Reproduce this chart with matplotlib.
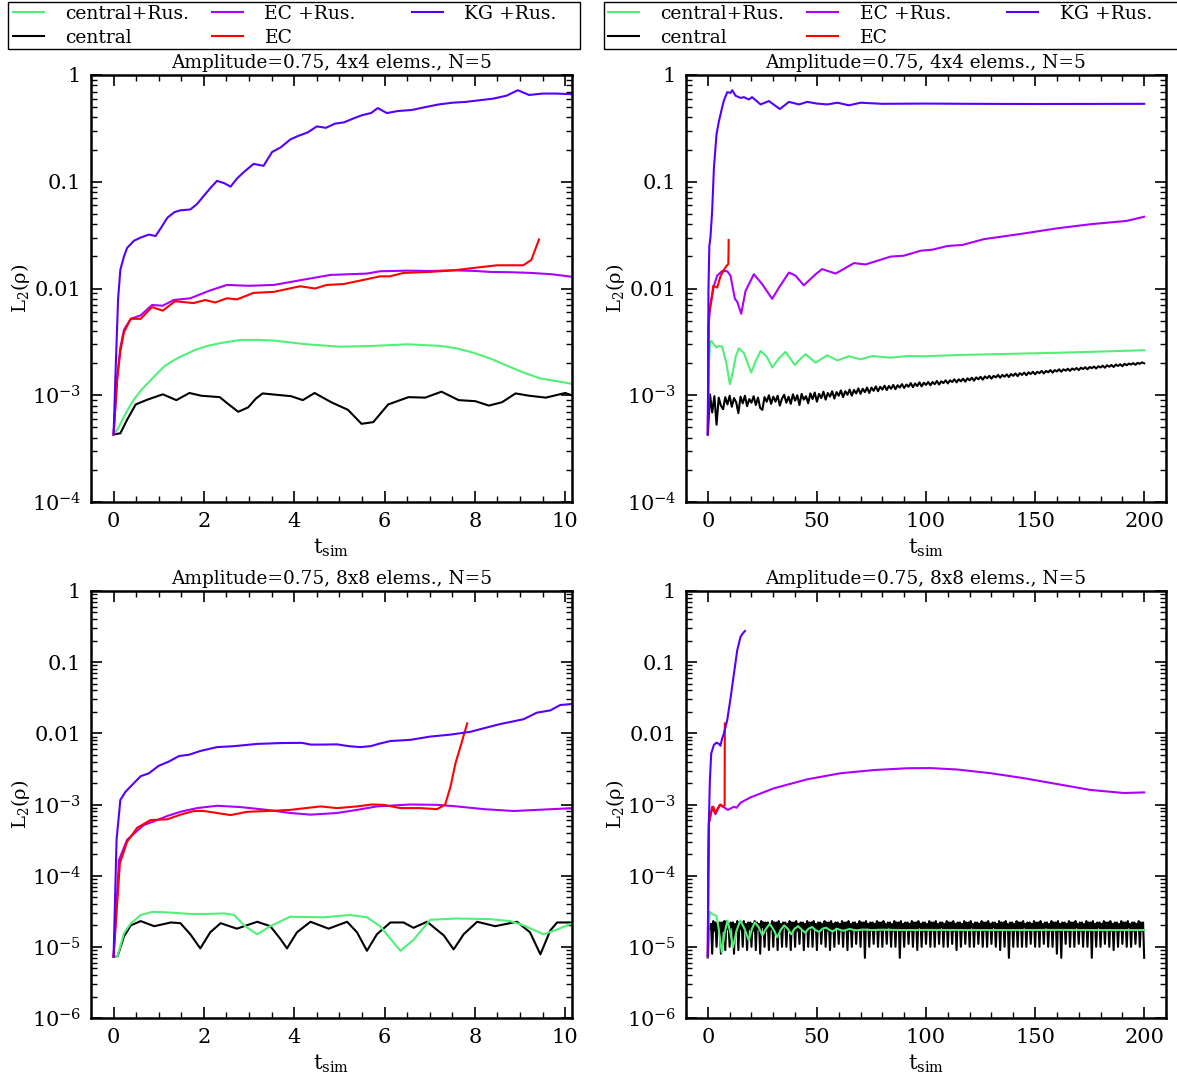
import numpy as np
import matplotlib
matplotlib.use('Agg')
import matplotlib.pyplot as plt
from matplotlib.patches import Rectangle
from matplotlib.ticker import FixedLocator, FixedFormatter, MultipleLocator, LogLocator, NullFormatter

plt.rcParams['font.family'] = ['DejaVu Serif']
plt.rcParams['mathtext.fontset'] = 'dejavuserif'

# ---------------- labels ----------------
series_labels = ['central+Rus.', 'central', 'EC +Rus.', 'EC', 'KG +Rus.']
titles = ['Amplitude=0.75, 4x4 elems., N=5', 'Amplitude=0.75, 4x4 elems., N=5',
          'Amplitude=0.75, 8x8 elems., N=5', 'Amplitude=0.75, 8x8 elems., N=5']
xticks_short = [0, 2, 4, 6, 8, 10]
xticks_long = [0, 50, 100, 150, 200]

# ---------------- top-left (4x4, t<=10) ----------------
tl_kg_t = [0, 0.05, 0.1, 0.15, 0.23, 0.3, 0.45, 0.6, 0.78, 0.93, 1.05, 1.19, 1.35, 1.48, 1.7, 1.85, 2.0, 2.15,
           2.29, 2.45, 2.59, 2.74, 2.9, 3.1, 3.32, 3.51, 3.7, 3.92, 4.1, 4.3, 4.5, 4.7, 4.9, 5.1, 5.3, 5.5, 5.7,
           5.85, 6.05, 6.3, 6.6, 6.9, 7.2, 7.5, 7.8, 8.1, 8.4, 8.7, 8.95, 9.2, 9.5, 9.8, 10.2]
tl_kg = [4.3e-4, 2e-3, 8e-3, 0.015, 0.020, 0.024, 0.028, 0.030, 0.032, 0.031, 0.037, 0.046, 0.052, 0.054, 0.055,
         0.062, 0.074, 0.088, 0.102, 0.097, 0.090, 0.108, 0.125, 0.147, 0.141, 0.190, 0.21, 0.25, 0.27, 0.29,
         0.33, 0.32, 0.35, 0.36, 0.39, 0.42, 0.44, 0.49, 0.44, 0.46, 0.47, 0.50, 0.53, 0.55, 0.56, 0.58, 0.60,
         0.64, 0.72, 0.65, 0.67, 0.67, 0.66]
tl_ecr_t = [0, 0.08, 0.15, 0.23, 0.38, 0.6, 0.85, 1.09, 1.33, 1.7, 2.11, 2.51, 3.0, 3.55, 4.06, 4.8, 5.2, 5.61,
            5.9, 6.5, 7.0, 7.53, 8.0, 8.34, 8.8, 9.23, 9.7, 10.2]
tl_ecr = [4.3e-4, 1.5e-3, 2.8e-3, 4.1e-3, 5.2e-3, 5.6e-3, 7.0e-3, 6.9e-3, 7.8e-3, 8.1e-3, 9.5e-3, 0.0108, 0.0106,
          0.0108, 0.0118, 0.0134, 0.0136, 0.0138, 0.0145, 0.0147, 0.0146, 0.0148, 0.0146, 0.0143, 0.0142, 0.014,
          0.0136, 0.0128]
tl_ec_t = [0, 0.08, 0.15, 0.23, 0.38, 0.6, 0.85, 1.09, 1.36, 1.77, 2.03, 2.25, 2.51, 2.73, 3.1, 3.55, 4.13, 4.46,
           4.72, 5.09, 5.6, 5.9, 6.12, 6.42, 7.0, 7.53, 8.04, 8.49, 9.07, 9.25, 9.36, 9.42]
tl_ec = [4.3e-4, 1.4e-3, 2.6e-3, 3.9e-3, 5.2e-3, 5.2e-3, 6.7e-3, 6.2e-3, 7.6e-3, 7.3e-3, 7.8e-3, 7.4e-3, 8.1e-3,
         7.9e-3, 9.1e-3, 9.3e-3, 0.0105, 0.0100, 0.0108, 0.011, 0.0122, 0.013, 0.013, 0.014, 0.0143, 0.0148,
         0.0157, 0.0165, 0.0165, 0.0185, 0.0247, 0.0288]
tl_cr_t = [0, 0.1, 0.23, 0.35, 0.45, 0.6, 0.75, 0.9, 1.12, 1.35, 1.57, 1.8, 2.08, 2.4, 2.82, 3.2, 3.55, 4.28,
           5.02, 5.76, 6.5, 7.23, 7.6, 7.97, 8.35, 8.7, 9.05, 9.44, 10.2]
tl_cr = [4.3e-4, 4.9e-4, 6.3e-4, 7.8e-4, 9.1e-4, 1.1e-3, 1.29e-3, 1.5e-3, 1.86e-3, 2.15e-3, 2.39e-3, 2.65e-3,
         2.9e-3, 3.1e-3, 3.3e-3, 3.3e-3, 3.25e-3, 3.0e-3, 2.85e-3, 2.9e-3, 3.0e-3, 2.9e-3, 2.75e-3, 2.5e-3,
         2.2e-3, 1.9e-3, 1.65e-3, 1.44e-3, 1.27e-3]
tl_c_t = [0, 0.15, 0.3, 0.49, 0.75, 1.09, 1.39, 1.68, 1.94, 2.35, 2.55, 2.76, 2.98, 3.15, 3.3, 3.93, 4.19, 4.45,
          4.82, 5.19, 5.49, 5.75, 6.08, 6.53, 6.9, 7.26, 7.64, 8.01, 8.31, 8.6, 8.9, 9.2, 9.57, 10.0, 10.2]
tl_c = [4.3e-4, 4.4e-4, 5.9e-4, 8.2e-4, 9.1e-4, 1.02e-3, 9.0e-4, 1.05e-3, 9.9e-4, 9.6e-4, 8.2e-4, 7.0e-4, 7.7e-4,
        9.3e-4, 1.04e-3, 9.8e-4, 9.0e-4, 1.05e-3, 8.6e-4, 7.3e-4, 5.4e-4, 5.6e-4, 8.2e-4, 9.6e-4, 9.5e-4, 1.08e-3,
        9.0e-4, 8.8e-4, 8.0e-4, 8.6e-4, 1.04e-3, 9.9e-4, 9.5e-4, 1.05e-3, 9.8e-4]

# ---------------- top-right (4x4, t<=200) ----------------
tr_kg_t = [0, 0.3, 0.7, 1.2, 2.0, 2.8, 4.0, 5.1, 6.6, 7.4, 8.9, 10.4, 11.2, 12.7, 15.0, 16.5, 18.8, 20.3, 24.2,
           28.0, 33.0, 37.2, 41.8, 45.6, 50.0, 54.8, 59.4, 64.7, 70.0, 80, 100, 120, 150, 200]
tr_kg = [4.3e-4, 0.01, 0.025, 0.03, 0.054, 0.136, 0.28, 0.37, 0.50, 0.58, 0.69, 0.68, 0.72, 0.64, 0.61, 0.62, 0.59,
         0.62, 0.53, 0.57, 0.48, 0.56, 0.53, 0.56, 0.54, 0.53, 0.55, 0.52, 0.55, 0.537, 0.54, 0.537, 0.535, 0.537]
tr_ecr_t = [0, 0.3, 1.2, 2.8, 4.3, 6.6, 8.9, 10.4, 12.4, 13.5, 15.3, 17.3, 21.1, 24.9, 29.5, 32.6, 37.2, 40.2,
            44.0, 49.4, 52.4, 58.6, 67, 72.3, 83.8, 89.9, 97.6, 102.9, 109.8, 116.7, 126.6, 145, 160, 175.4, 192, 200]
tr_ecr = [4.3e-4, 4.5e-3, 7.1e-3, 0.0106, 0.0132, 0.0146, 0.0145, 0.0132, 0.0080, 0.0075, 0.0058, 0.0095, 0.0136,
          0.011, 0.0080, 0.0102, 0.0141, 0.0132, 0.0107, 0.0136, 0.0152, 0.0138, 0.0173, 0.0168, 0.0199, 0.0203,
          0.0226, 0.0231, 0.025, 0.0256, 0.029, 0.0328, 0.0366, 0.040, 0.043, 0.047]
tr_ec_t = [0, 0.5, 1.6, 2.5, 4.3, 5.8, 7.4, 8.6, 9.4, 9.5, 9.55]
tr_ec = [4.3e-4, 5.6e-3, 7.7e-3, 0.0106, 0.0102, 0.013, 0.015, 0.0163, 0.017, 0.0226, 0.0285]
tr_cr_t = [0, 0.5, 1.0, 1.6, 2.8, 4.0, 5.1, 6.6, 8.5, 10.1, 11.2, 12.8, 14.2, 16.5, 19.9, 22.0, 24.2, 27.0, 29.5,
           32.5, 35.6, 39.9, 42.5, 44.8, 49.4, 54.7, 59.4, 64.7, 70, 75.4, 83.8, 91.4, 99, 114.4, 129.7, 145, 160,
           175, 200]
tr_cr = [4.3e-4, 2.0e-3, 3.1e-3, 3.23e-3, 3.0e-3, 2.8e-3, 2.9e-3, 2.85e-3, 2.0e-3, 1.27e-3, 1.57e-3, 2.3e-3,
         2.75e-3, 2.5e-3, 1.63e-3, 2.1e-3, 2.6e-3, 2.3e-3, 1.82e-3, 2.2e-3, 2.55e-3, 1.92e-3, 2.2e-3, 2.42e-3,
         2.02e-3, 2.37e-3, 2.12e-3, 2.32e-3, 2.17e-3, 2.33e-3, 2.25e-3, 2.33e-3, 2.32e-3, 2.38e-3, 2.42e-3,
         2.46e-3, 2.5e-3, 2.55e-3, 2.64e-3]
# central, sampled every 1 time unit, values in units of 1e-4
tr_c_e4 = [4.3,
           10.2, 6.9, 9.8, 5.3, 9.5, 8.0, 7.4, 9.6, 8.2, 9.9,
           7.8, 9.4, 8.6, 6.8, 9.7, 8.4, 9.9, 7.9, 9.2, 8.5,
           9.8, 8.1, 9.5, 7.6, 7.3, 9.6, 8.7, 10.0, 8.3, 9.7,
           8.7, 9.9, 8.0, 9.3, 10.1, 8.5, 9.7, 8.3, 10.2, 8.9,
           10.0, 8.1, 10.3, 9.1, 9.8, 8.4, 10.4, 9.2, 10.6, 8.7,
           10.3, 9.4, 10.8, 9.1, 10.5, 9.7, 10.9, 9.3, 10.7, 9.9,
           11.1, 9.6, 10.9, 10.1, 11.3, 9.9, 11.2, 10.4, 11.6, 10.3,
           11.5, 10.7, 11.8, 10.5, 11.8, 11.0, 12.1, 10.9, 12.0, 11.3,
           12.3, 11.2, 12.2, 11.5, 12.5, 11.4, 12.4, 11.8, 12.7, 11.7,
           12.6, 12.0, 13.0, 11.9, 12.9, 12.2, 13.2, 12.1, 13.1, 12.5,
           13.3, 12.4, 13.3, 12.7, 13.6, 12.6, 13.5, 13.0, 13.8, 12.9,
           13.8, 13.3, 14.1, 13.2, 14.1, 13.5, 14.3, 13.4, 14.4, 13.8,
           14.6, 13.7, 14.7, 14.1, 14.9, 14.0, 15.0, 14.4, 15.2, 14.3,
           15.2, 14.7, 15.5, 14.6, 15.5, 14.9, 15.7, 14.8, 15.8, 15.2,
           16.0, 15.1, 16.1, 15.5, 16.3, 15.4, 16.4, 15.8, 16.6, 15.7,
           16.6, 16.1, 16.9, 16.0, 16.9, 16.4, 17.2, 16.3, 17.2, 16.7,
           17.5, 16.6, 17.5, 17.0, 17.7, 16.9, 17.8, 17.3, 18.0, 17.2,
           18.1, 17.6, 18.3, 17.5, 18.4, 17.9, 18.6, 17.8, 18.7, 18.2,
           18.9, 18.1, 19.1, 18.5, 19.2, 18.4, 19.4, 18.8, 19.5, 18.7,
           19.7, 19.1, 19.8, 19.4, 20.0, 19.3, 20.1, 19.7, 20.3, 19.9]

# ---------------- bottom-left (8x8, t<=10) ----------------
bl_kg_t = [0, 0.066, 0.15, 0.26, 0.45, 0.6, 0.78, 1.0, 1.22, 1.45, 1.67, 1.92, 2.29, 2.66, 3.18, 3.69, 4.17, 4.36,
           4.65, 4.95, 5.21, 5.46, 5.69, 5.9, 6.13, 6.57, 7.01, 7.46, 7.9, 8.2, 8.56, 9.08, 9.37, 9.67, 9.89, 10.2]
bl_kg = [7.3e-6, 3.2e-4, 1.16e-3, 1.5e-3, 2.0e-3, 2.5e-3, 2.74e-3, 3.5e-3, 4.0e-3, 4.8e-3, 5.0e-3, 5.65e-3, 6.4e-3,
         6.6e-3, 7.1e-3, 7.3e-3, 7.35e-3, 6.95e-3, 6.95e-3, 7.0e-3, 6.6e-3, 6.4e-3, 6.6e-3, 7.2e-3, 7.8e-3, 8.1e-3,
         9.0e-3, 9.6e-3, 0.0105, 0.0118, 0.0135, 0.0158, 0.0195, 0.021, 0.025, 0.026]
bl_ecr_t = [0, 0.12, 0.3, 0.67, 0.97, 1.19, 1.48, 1.85, 2.29, 2.81, 3.4, 3.91, 4.36, 4.95, 5.39, 5.83, 6.57, 7.16,
            7.6, 8.2, 8.86, 9.37, 10.2]
bl_ecr = [7.3e-6, 1.66e-4, 3.2e-4, 5.15e-4, 6.05e-4, 6.9e-4, 7.9e-4, 8.9e-4, 9.6e-4, 9.2e-4, 8.4e-4, 7.6e-4,
          7.2e-4, 7.6e-4, 8.4e-4, 9.4e-4, 1.0e-3, 9.9e-4, 9.4e-4, 8.6e-4, 8.1e-4, 8.4e-4, 8.9e-4]
bl_ec_t = [0, 0.14, 0.3, 0.52, 0.82, 1.19, 1.48, 1.78, 2.0, 2.29, 2.59, 2.96, 3.4, 3.91, 4.58, 4.95, 5.39, 5.72,
           5.97, 6.35, 6.79, 7.16, 7.34, 7.46, 7.57, 7.68, 7.83]
bl_ec = [7.3e-6, 1.5e-4, 3.0e-4, 4.7e-4, 6.05e-4, 6.2e-4, 7.2e-4, 8.1e-4, 8.1e-4, 7.6e-4, 7.1e-4, 7.9e-4, 8.1e-4,
         8.4e-4, 9.4e-4, 8.9e-4, 9.4e-4, 1.0e-3, 9.9e-4, 8.9e-4, 8.9e-4, 8.6e-4, 9.9e-4, 1.78e-3, 3.8e-3, 6.5e-3,
         0.0138]
bl_cr_t = [0, 0.09, 0.23, 0.38, 0.6, 0.86, 1.19, 1.7, 2.07, 2.45, 2.67, 2.89, 3.18, 3.47, 3.91, 4.65, 5.24, 5.61,
           5.9, 6.35, 6.64, 7.01, 7.6, 8.34, 8.78, 9.08, 9.52, 9.82, 10.2]
bl_cr = [7.3e-6, 7.5e-6, 1.55e-5, 2.13e-5, 2.8e-5, 3.1e-5, 3.05e-5, 2.9e-5, 2.9e-5, 2.95e-5, 2.8e-5, 2.0e-5, 1.5e-5,
         1.95e-5, 2.65e-5, 2.6e-5, 2.8e-5, 2.6e-5, 1.95e-5, 8.8e-6, 1.25e-5, 2.4e-5, 2.5e-5, 2.45e-5, 2.3e-5,
         2.0e-5, 1.5e-5, 1.75e-5, 2.2e-5]
bl_c_t = [0, 0.09, 0.23, 0.38, 0.6, 0.9, 1.27, 1.48, 1.7, 1.92, 2.14, 2.37, 2.73, 3.18, 3.47, 3.69, 3.84, 4.06,
          4.36, 4.76, 5.17, 5.39, 5.61, 5.83, 6.13, 6.42, 6.64, 6.94, 7.31, 7.53, 7.75, 8.05, 8.45, 8.93, 9.22,
          9.45, 9.67, 9.82, 10.2]
bl_c = [7.3e-6, 7.4e-6, 1.4e-5, 2.0e-5, 2.3e-5, 1.95e-5, 2.2e-5, 2.15e-5, 1.5e-5, 9.5e-6, 1.6e-5, 2.15e-5, 1.8e-5,
        2.25e-5, 1.95e-5, 1.3e-5, 9.5e-6, 1.6e-5, 2.25e-5, 1.8e-5, 2.25e-5, 1.6e-5, 8.8e-6, 1.5e-5, 2.2e-5, 2.2e-5,
        1.85e-5, 2.25e-5, 1.45e-5, 9.2e-6, 1.5e-5, 2.25e-5, 1.95e-5, 2.25e-5, 1.6e-5, 7.85e-6, 1.7e-5, 2.2e-5,
        2.2e-5]

# ---------------- bottom-right (8x8, t<=200) ----------------
br_kg_t = [0, 0.2, 0.5, 0.95, 1.55, 2.8, 4.0, 5.1, 5.8, 6.6, 7.4, 8.9, 10.4, 12.0, 13.5, 15.0, 16.1, 17.0]
br_kg = [7.3e-6, 1e-4, 6.0e-4, 2.2e-3, 5.2e-3, 6.9e-3, 7.4e-3, 7.1e-3, 6.7e-3, 8.5e-3, 0.010, 0.0154, 0.031, 0.07,
         0.148, 0.228, 0.255, 0.274]
br_ec_t = [0, 0.2, 0.5, 1.6, 2.5, 3.5, 4.6, 5.8, 7.0, 7.7, 7.8]
br_ec = [7.3e-6, 1e-4, 5.5e-4, 7.9e-4, 9.3e-4, 7.6e-4, 8.9e-4, 1.0e-3, 9.3e-4, 9.7e-4, 0.0138]
br_ecr_t = [0, 0.2, 0.5, 2.0, 3.5, 5.5, 7.0, 9.2, 12.0, 13.2, 15.0, 19.6, 30.3, 45.6, 60.9, 76.2, 91.4, 102, 114.4,
            129.7, 145, 160, 175.5, 190.8, 200]
br_ecr = [7.3e-6, 1e-4, 5.5e-4, 9.3e-4, 7.3e-4, 9.9e-4, 9.3e-4, 8.4e-4, 9.3e-4, 9.0e-4, 1.06e-3, 1.26e-3, 1.69e-3,
          2.26e-3, 2.75e-3, 3.05e-3, 3.23e-3, 3.25e-3, 3.1e-3, 2.75e-3, 2.34e-3, 1.94e-3, 1.6e-3, 1.45e-3, 1.48e-3]
br_cr_t = [0, 0.4, 1.0, 2.0, 3.0, 4.0, 5.0, 6.4, 7.8, 9.0, 10.3, 11.5, 13.2, 14.9, 16.8, 18.8, 20.2, 21.6, 23.3,
           25.0, 26.7, 28.4, 30.1, 31.8, 33.5, 35.0, 36.6, 38.2, 39.8, 41.4, 43.0, 44.6, 46.2, 47.8, 49.4, 51.0,
           52.6, 54.2, 55.8, 57.4, 59, 62, 65, 68, 71, 75, 80, 90, 100, 120, 140, 160, 180, 200]
# values in units of 1e-5
br_cr_e5 = [0.7, 2.0, 3.1, 2.9, 2.8, 2.7, 1.8, 0.84, 1.6, 2.35, 1.6, 0.98, 1.7, 2.35, 1.8, 1.23, 1.8, 2.2, 1.9,
            1.45, 1.8, 2.1, 1.75, 1.36, 1.75, 2.0, 1.8, 1.5, 1.8, 1.95, 1.75, 1.58, 1.8, 1.9, 1.72, 1.62, 1.8,
            1.86, 1.72, 1.65, 1.8, 1.68, 1.78, 1.7, 1.75, 1.72, 1.74, 1.72, 1.73, 1.72, 1.72, 1.73, 1.72, 1.72]
# central, sampled every 0.5 time units, values in units of 1e-6
br_c_e6 = [7,
           22, 18, 21, 8, 23, 17, 22, 10, 21, 18, 22, 8, 22, 17, 23, 9, 23, 18, 21, 10,
           22, 19, 22, 8, 21, 17, 23, 9, 22, 18, 22, 10, 23, 17, 21, 9, 22, 18, 22, 10,
           21, 17, 23, 9, 22, 18, 21, 8, 23, 19, 22, 10, 22, 17, 22, 9, 21, 18, 23, 10,
           22, 17, 22, 9, 23, 18, 21, 10, 22, 19, 22, 10, 21, 17, 23, 9, 22, 18, 22, 10,
           23, 17, 21, 11, 22, 18, 22, 9, 21, 17, 23, 10, 22, 18, 22, 10, 23, 19, 21, 9,
           22, 17, 22, 11, 21, 18, 23, 10, 22, 17, 22, 9, 23, 18, 21, 10, 22, 19, 22, 11,
           21, 17, 23, 10, 22, 18, 22, 9, 23, 17, 21, 10, 22, 18, 22, 11, 21, 17, 23, 10,
           22, 18, 22, 7, 23, 19, 21, 10, 22, 17, 22, 11, 21, 18, 23, 10, 22, 17, 22, 10,
           23, 18, 21, 11, 22, 19, 22, 10, 21, 17, 23, 10, 22, 18, 22, 7, 23, 17, 21, 10,
           22, 18, 22, 11, 21, 17, 23, 10, 22, 18, 22, 9, 23, 19, 21, 10, 22, 17, 22, 11,
           21, 18, 23, 10, 22, 17, 22, 10, 23, 18, 21, 11, 22, 19, 22, 10, 21, 17, 23, 10,
           22, 18, 22, 11, 23, 17, 21, 9, 22, 18, 22, 10, 21, 17, 23, 11, 22, 18, 22, 10,
           23, 19, 21, 10, 22, 17, 22, 11, 21, 18, 23, 10, 22, 17, 22, 10, 23, 18, 21, 11,
           22, 19, 22, 10, 21, 17, 23, 9, 22, 18, 22, 10, 23, 17, 21, 7, 22, 18, 22, 10,
           21, 17, 23, 10, 22, 18, 22, 10, 23, 19, 21, 10, 22, 17, 22, 11, 21, 18, 23, 10,
           22, 17, 22, 10, 23, 18, 21, 11, 22, 19, 22, 10, 21, 17, 23, 10, 22, 18, 22, 8,
           23, 17, 21, 7, 22, 18, 22, 11, 21, 17, 23, 10, 22, 18, 22, 10, 23, 19, 21, 11,
           22, 17, 22, 10, 21, 18, 23, 10, 22, 17, 22, 7, 23, 18, 21, 10, 22, 19, 22, 10,
           21, 17, 23, 11, 22, 18, 22, 10, 23, 17, 21, 9, 22, 18, 22, 10, 21, 17, 23, 11,
           22, 18, 22, 10, 23, 19, 21, 10, 22, 17, 22, 11, 21, 18, 23, 10, 22, 17, 22, 7]

# ---------------- colours ----------------
c_cr, c_c, c_ecr, c_ec, c_kg = '#50f078', 'black', '#aa00ff', '#ff0000', '#5500ff'

W, H = 1177, 1078
fig = plt.figure(figsize=(W / 100, H / 100), dpi=100)


def add_ax(l, r, t, b):
    return fig.add_axes([l / W, 1 - b / H, (r - l) / W, (b - t) / H])


ax_tl = add_ax(91, 572, 75, 502)
ax_tr = add_ax(686, 1166, 75, 502)
ax_bl = add_ax(91, 572, 591, 1018)
ax_br = add_ax(686, 1166, 591, 1018)


def style(ax, xlim, xticks, xminor, ymin_exp, title):
    ax.set_yscale('log')
    ax.set_ylim(10.0 ** ymin_exp, 1)
    ax.set_xlim(*xlim)
    ax.xaxis.set_major_locator(FixedLocator(xticks))
    ax.xaxis.set_minor_locator(MultipleLocator(xminor))
    exps = list(range(ymin_exp, 1))
    labs = []
    for k in exps:
        if k == 0:
            labs.append('1')
        elif k == -1:
            labs.append('0.1')
        elif k == -2:
            labs.append('0.01')
        else:
            labs.append(r'$10^{%d}$' % k)
    ax.yaxis.set_major_locator(FixedLocator([10.0 ** k for k in exps]))
    ax.yaxis.set_major_formatter(FixedFormatter(labs))
    ax.yaxis.set_minor_locator(LogLocator(base=10, subs=np.arange(2, 10), numticks=20))
    ax.yaxis.set_minor_formatter(NullFormatter())
    ax.tick_params(which='both', direction='in', top=True, right=True, labelsize=15)
    ax.tick_params(which='major', length=8, width=1.2, pad=7)
    ax.tick_params(which='minor', length=4, width=1.0)
    for s in ax.spines.values():
        s.set_linewidth(1.8)
    ax.set_xlabel(r't$_\mathregular{sim}$', fontsize=15, labelpad=4)
    ax.set_ylabel(r'L$_2$(ρ)', fontsize=14, labelpad=0)
    ax.set_title(title, fontsize=13.3, pad=5)


LW = 1.5


def draw(ax, cr, c, ecr, ec, kg):
    h_c, = ax.plot(*c, color=c_c, lw=LW, label=series_labels[1])
    h_cr, = ax.plot(*cr, color=c_cr, lw=LW, label=series_labels[0])
    h_ecr, = ax.plot(*ecr, color=c_ecr, lw=LW, label=series_labels[2])
    h_ec, = ax.plot(*ec, color=c_ec, lw=LW, label=series_labels[3])
    h_kg, = ax.plot(*kg, color=c_kg, lw=LW, label=series_labels[4])
    return [h_cr, h_c, h_ecr, h_ec, h_kg]


handles = draw(ax_tl, (tl_cr_t, tl_cr), (tl_c_t, tl_c), (tl_ecr_t, tl_ecr), (tl_ec_t, tl_ec), (tl_kg_t, tl_kg))
draw(ax_tr, (tr_cr_t, tr_cr), (np.arange(len(tr_c_e4)), np.array(tr_c_e4) * 1e-4), (tr_ecr_t, tr_ecr),
     (tr_ec_t, tr_ec), (tr_kg_t, tr_kg))
draw(ax_bl, (bl_cr_t, bl_cr), (bl_c_t, bl_c), (bl_ecr_t, bl_ecr), (bl_ec_t, bl_ec), (bl_kg_t, bl_kg))
draw(ax_br, (br_cr_t, np.array(br_cr_e5) * 1e-5), (np.arange(len(br_c_e6)) * 0.5, np.array(br_c_e6) * 1e-6),
     (br_ecr_t, br_ecr), (br_ec_t, br_ec), (br_kg_t, br_kg))

style(ax_tl, (-0.5, 10.15), xticks_short, 0.5, -4, titles[0])
style(ax_tr, (-10, 210), xticks_long, 10, -4, titles[1])
style(ax_bl, (-0.5, 10.15), xticks_short, 0.5, -6, titles[2])
style(ax_br, (-10, 210), xticks_long, 10, -6, titles[3])

# legends: framed box above each column, three columns of entries
col_groups = [([0, 1], 0), ([2, 3], 199), ([4], 399)]
for box_x, box_w, first_x in [(8, 572, 13), (604, 590, 608)]:
    fig.add_artist(Rectangle((box_x / W, 1 - 49 / H), box_w / W, 47 / H, transform=fig.transFigure,
                             fill=False, edgecolor='black', linewidth=1.0))
    for idxs, dx in col_groups:
        fig.legend(handles=[handles[i] for i in idxs], labels=[series_labels[i] for i in idxs],
                   loc='upper left', bbox_to_anchor=((first_x + dx) / W, 1 - 5 / H),
                   bbox_transform=fig.transFigure, frameon=False, borderpad=0, borderaxespad=0,
                   handlelength=1.65, handletextpad=1.15, labelspacing=0.3, fontsize=13.5)

fig.savefig('out.png', dpi=100)
